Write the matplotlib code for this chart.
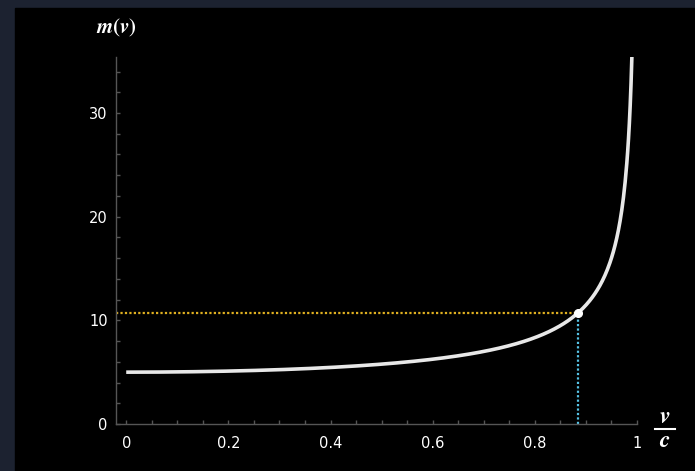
import matplotlib.pyplot as plt
import matplotlib.lines as mlines
import matplotlib.patches as mpatches
import numpy as np

# rest mass and the marked speed (fraction of c)
m0 = 5.0
v_mark = 0.885
v_end = 0.99

x_ticks = [0, 0.2, 0.4, 0.6, 0.8, 1]
x_labels = ['0', '0.2', '0.4', '0.6', '0.8', '1']
y_ticks = [0, 10, 20, 30]
y_labels = ['0', '10', '20', '30']

v = np.linspace(0, v_end, 600)
m = m0 / np.sqrt(1 - v**2)
m_mark = m0 / np.sqrt(1 - v_mark**2)

fig = plt.figure(figsize=(6.95, 4.71), dpi=100, facecolor='#1c2230')
# black panel inside the navy frame
fig.patches.append(mpatches.Rectangle((15/695, 0), 1 - 15/695, 463/471,
                                      transform=fig.transFigure, color='black', zorder=-10))

ax = fig.add_axes([116/695, 47/471, 521/695, 367/471])
ax.patch.set_alpha(0)

ax.plot([-0.02, v_mark], [m_mark, m_mark], color='#e0b020', lw=1.6,
        linestyle=(0, (1, 1)), zorder=2)
ax.plot([v_mark, v_mark], [0, m_mark], color='#56c3e6', lw=1.6,
        linestyle=(0, (1, 1)), zorder=2)
ax.plot(v, m, color='#e8e8e8', lw=2.6, zorder=3, solid_capstyle='butt')
ax.plot([v_mark], [m_mark], 'o', color='white', markersize=5.5, zorder=4)

ax.set_xlim(-0.02, 1.0)
ax.set_ylim(0, 35.4)

for s in ['top', 'right']:
    ax.spines[s].set_visible(False)
for s in ['left', 'bottom']:
    ax.spines[s].set_color('#555555')
    ax.spines[s].set_linewidth(1.0)

ax.set_xticks(x_ticks)
ax.set_xticklabels(x_labels)
ax.set_yticks(y_ticks)
ax.set_yticklabels(y_labels)
ax.set_xticks(np.arange(0, 1.0001, 0.05), minor=True)
ax.set_yticks(np.arange(0, 35, 2), minor=True)
ax.tick_params(which='both', direction='in', color='#555555', width=1.0, length=3,
               labelcolor='white', labelsize=10.5)
ax.tick_params(axis='x', which='major', pad=9)
ax.tick_params(axis='y', which='major', pad=6)

font = dict(math_fontfamily='stix', color='white', ha='center', va='center')
fig.text(116/695, 1 - 28/471, r'$\boldsymbol{m(v)}$', fontsize=15, **font)
fig.text(665/695, 1 - 416/471, r'$\boldsymbol{v}$', fontsize=17, **font)
fig.text(665/695, 1 - 440/471, r'$\boldsymbol{c}$', fontsize=17, **font)
fig.lines.append(mlines.Line2D([655/695, 675/695], [1 - 429/471, 1 - 429/471],
                               transform=fig.transFigure, color='white', lw=1.5))

fig.savefig('out.png', dpi=100, facecolor=fig.get_facecolor())
